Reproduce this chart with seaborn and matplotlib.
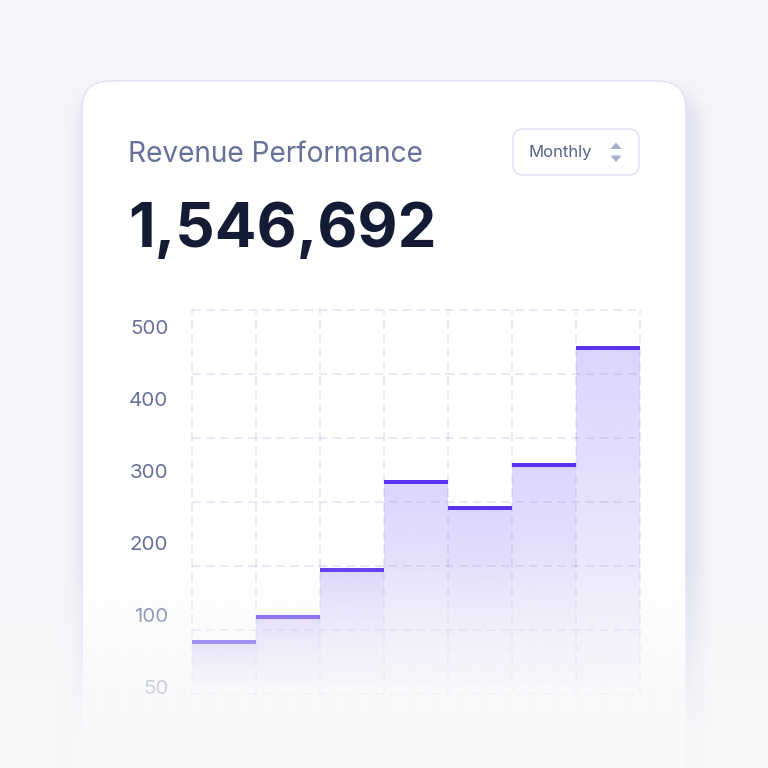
import numpy as np
import pandas as pd
import matplotlib
matplotlib.use("Agg")
import matplotlib.pyplot as plt
import seaborn as sns
from matplotlib.patches import FancyBboxPatch, Polygon
from matplotlib.colors import to_rgb

# ---------------- data ----------------
months = ["Jan", "Feb", "Mar", "Apr", "May", "Jun", "Jul"]
revenue = [62, 97, 163, 285, 248, 309, 471]
tick_values = [0, 100, 200, 300, 400, 500]
tick_labels = ["50", "100", "200", "300", "400", "500"]
title_text = "Revenue Performance"
total_text = "1,546,692"
period_text = "Monthly"

# ---------------- style ----------------
sns.set_theme(style="white")
plt.rcParams["font.family"] = ["Inter", "DejaVu Sans"]

BG = "#f5f5f9"
LINE = "#5b34ee"
FILL = "#dcd5fc"
TXT = "#68719a"
W = H = 768

fig = plt.figure(figsize=(7.68, 7.68), dpi=100, facecolor=BG)

# decoration layer in pixel coords
deco = fig.add_axes([0, 0, 1, 1], zorder=0)
deco.set_xlim(0, W)
deco.set_ylim(H, 0)
deco.axis("off")

# card shadow (soft, offset to the right / down)
for i in range(12):
    pad = 1 + i * 2.0
    sh = FancyBboxPatch((82 - pad + 10, 81 - pad + 22), 604 + 2 * pad - 10, 760,
                        boxstyle=f"round,pad=0,rounding_size={28 + pad}",
                        facecolor="#8a90c0", edgecolor="none", alpha=0.010, zorder=1)
    deco.add_patch(sh)
# card
card = FancyBboxPatch((82, 81), 604, 760, boxstyle="round,pad=0,rounding_size=28",
                      facecolor="white", edgecolor="#e0e2f1", linewidth=1.1, zorder=2)
deco.add_patch(card)

# title + total
deco.text(128, 162, title_text, fontsize=20.2, color=TXT, ha="left", va="baseline", zorder=3)
deco.text(128, 247, total_text, fontsize=44.5, fontweight="bold", color="#141b34",
          ha="left", va="baseline", zorder=3)

# dropdown
dd = FancyBboxPatch((513, 129), 126, 46, boxstyle="round,pad=0,rounding_size=10",
                    facecolor="white", edgecolor="#dde1f2", linewidth=1.1, zorder=3)
deco.add_patch(dd)
deco.text(528, 152.5, period_text, fontsize=12.0, color="#5a6388", ha="left", va="center", zorder=4)
deco.add_patch(Polygon([[610.5, 149], [621.5, 149], [616, 142.5]], closed=True,
                       facecolor="#a9aed0", edgecolor="none", zorder=4))
deco.add_patch(Polygon([[610.5, 155.5], [621.5, 155.5], [616, 162]], closed=True,
                       facecolor="#a9aed0", edgecolor="none", zorder=4))

# ---------------- chart ----------------
ax_left, ax_right, ax_top, ax_bot = 192, 640, 310, 694
ax = fig.add_axes([ax_left / W, 1 - ax_bot / H, (ax_right - ax_left) / W,
                   (ax_bot - ax_top) / H], zorder=5)
ax.patch.set_alpha(0)

df = pd.DataFrame({"month": months, "revenue": revenue})
sns.barplot(data=df, x="month", y="revenue", width=1.0, color=FILL, saturation=1,
            edgecolor="none", ax=ax, zorder=1)

ax.set_xlim(-0.5, len(months) - 0.5)
ymin, ymax = -9.7, 523.6
ax.set_ylim(ymin, ymax)
ax.set_autoscale_on(False)

# gradient fills clipped to the bars
rgb = np.array(to_rgb(FILL))
for p in ax.patches:
    x0, w, h = p.get_x(), p.get_width(), p.get_height()
    n = 256
    grad = np.zeros((n, 1, 4))
    grad[..., :3] = rgb
    grad[:, 0, 3] = np.linspace(1.0, 0.3, n)
    im = ax.imshow(grad, extent=(x0, x0 + w, 0, h), origin="upper", aspect="auto",
                   zorder=1.5, interpolation="bilinear")
    im.set_clip_path(p)
    p.set_facecolor("none")
    ax.plot([x0, x0 + w], [h, h], color=LINE, lw=2.9, solid_capstyle="butt", zorder=3)

# dashed grid
gkw = dict(color="#9aa0d0", alpha=0.30, lw=1.1, ls=(0, (5.6, 3.6)), zorder=2, clip_on=False)
for yv in np.linspace(ymin, ymax, 7):
    ax.axhline(yv, **gkw)
for xv in np.arange(len(months) + 1) - 0.5:
    ax.axvline(xv, **gkw)

ax.set_yticks(tick_values)
ax.set_yticklabels(tick_labels)
ax.tick_params(axis="y", length=0, pad=17, labelsize=14.8, labelcolor=TXT)
ax.set_xticks([])
ax.set_xlabel("")
ax.set_ylabel("")
for s in ax.spines.values():
    s.set_visible(False)

# bottom fade overlay
ov = fig.add_axes([0, 0, 1, 1], zorder=20)
ov.axis("off")
rows = np.arange(H)
alpha = np.clip((rows - 555) / 185.0, 0, 0.96)
fade = np.zeros((H, 1, 4))
fade[..., :3] = np.array(to_rgb("#f8f8fa"))
fade[:, 0, 3] = alpha
ov.imshow(fade, extent=(0, 1, 0, 1), origin="upper", aspect="auto", interpolation="bilinear")
ov.set_xlim(0, 1)
ov.set_ylim(0, 1)

fig.savefig("out.png", dpi=100, facecolor=BG)
